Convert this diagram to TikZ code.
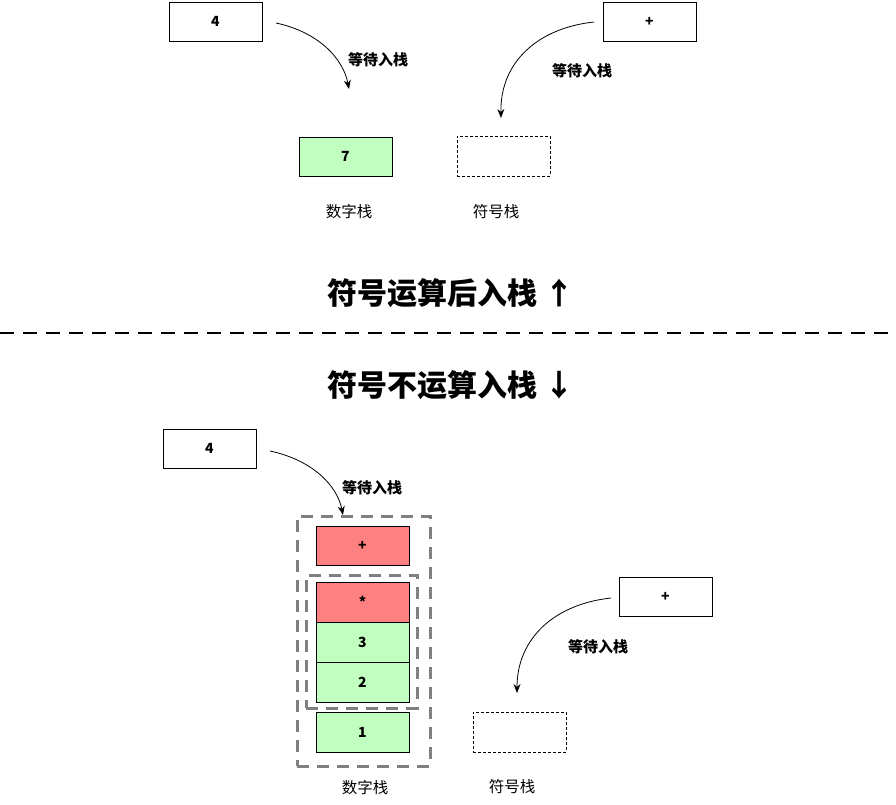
\documentclass[tikz,border=0pt]{standalone}
\usepackage{fontspec}
\setmainfont{Noto Sans CJK SC}
\usetikzlibrary{arrows.meta}
\definecolor{gfill}{HTML}{C0FFC0}
\definecolor{rfill}{HTML}{FF8080}
\definecolor{dgray}{HTML}{808080}
\tikzset{
  cell/.style={draw=black, line width=0.9pt, minimum width=93pt, minimum height=39pt, inner sep=0pt, font=\fontsize{14}{16}\selectfont\bfseries},
  gcell/.style={cell, fill=gfill},
  rcell/.style={cell, fill=rfill},
  emptycell/.style={draw=black, line width=0.7pt, dashed, dash pattern=on 3pt off 2pt, minimum width=93pt, minimum height=40pt, inner sep=0pt},
  lbl/.style={font=\fontsize{15}{17}\selectfont\bfseries},
  stacklbl/.style={font=\fontsize{15.5}{18}\selectfont},
  title/.style={font=\fontsize{30}{34}\selectfont\bfseries},
  curve/.style={line width=0.8pt, -{Stealth[length=9pt,width=7pt]}},
  grp/.style={draw=dgray, line width=3pt, dash pattern=on 12pt off 8pt},
}
\begin{document}
\begin{tikzpicture}[x=1pt,y=-1pt]
\useasboundingbox (0,0) rectangle (896,804);
% top section
\node[cell] (a4) at (215.5,21.5) {4};
\node[cell] (aplus) at (649.5,21.5) {+};
\node[gcell] (a7) at (345.5,156.5) {7};
\node[emptycell] (asym) at (503.5,156) {};
\node[stacklbl] (anum) at (349,212) {数字栈};
\node[stacklbl] (asyml) at (496,212) {符号栈};
\coordinate (a1s) at (276,23);
\coordinate (a1e) at (349,89);
\coordinate (a2s) at (594,22);
\coordinate (a2e) at (501,118);
\draw[curve] (a1s) .. controls (318,32) and (343,58) .. (a1e);
\draw[curve] (a2s) .. controls (538,28) and (500,62) .. (a2e);
\node[lbl] (alab1) at (378,60) {等待入栈};
\node[lbl] (alab2) at (582,71) {等待入栈};
% titles
\node[title] (t1) at (451,293) {符号运算后入栈 ↑};
\coordinate (dl) at (0,333);
\coordinate (dr) at (896,333);
\draw[line width=2.6pt, dash pattern=on 14pt off 9pt] (dl) -- (dr);
\node[title] (t2) at (451,385) {符号不运算入栈 ↓};
% bottom section
\node[cell] (b4) at (209.5,448.5) {4};
\node[rcell] (bplus) at (362.5,545.5) {+};
\node[rcell, minimum height=40pt] (bstar) at (362.5,602) {*};
\node[gcell, minimum height=40pt] (b3) at (362.5,642) {3};
\node[gcell, minimum height=40pt] (b2) at (362.5,682) {2};
\node[gcell, minimum height=40pt] (b1) at (362.5,732) {1};
\node[grp, minimum width=133pt, minimum height=250pt, inner sep=0pt] (outer) at (363.5,641) {};
\node[grp, minimum width=111pt, minimum height=133pt, inner sep=0pt] (inner) at (361.5,641.5) {};
\node[stacklbl] (bnum) at (365,788) {数字栈};
\node[cell] (bop) at (665.5,596.5) {+};
\node[emptycell] (bsym) at (519.5,732) {};
\node[stacklbl] (bsyml) at (512,787) {符号栈};
\coordinate (b1s) at (270,451);
\coordinate (b1e) at (343,515);
\coordinate (b2s) at (611,598);
\coordinate (b2e) at (517,693);
\draw[curve] (b1s) .. controls (312,460) and (337,485) .. (b1e);
\draw[curve] (b2s) .. controls (555,604) and (517,638) .. (b2e);
\node[lbl] (blab1) at (372,488) {等待入栈};
\node[lbl] (blab2) at (598,647) {等待入栈};
\end{tikzpicture}
\end{document}
